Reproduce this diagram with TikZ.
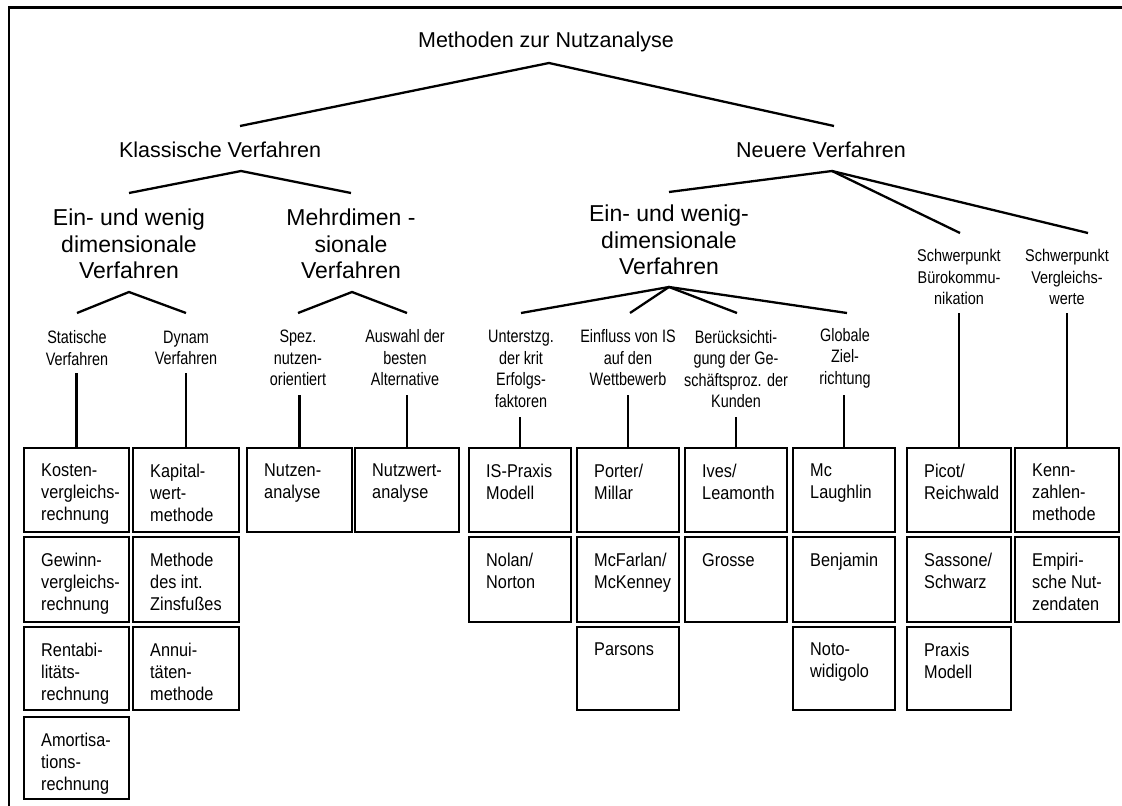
\documentclass[tikz,border=0pt]{standalone}
\usepackage{fontspec}
\setmainfont{Liberation Sans}
\newfontfamily\narrowsans[FakeStretch=0.8]{Liberation Sans}
\newfontfamily\boxsans[FakeStretch=0.88]{Liberation Sans}
\newfontfamily\smallsans[FakeStretch=0.85]{Liberation Sans}
\newcommand\mybox[6]{%
  \node[box, anchor=north west, minimum width={#4-#2}, minimum height={#5-#3}] (#1) at (#2,#3) {};
  \node[btxt] at ([xshift=17pt,yshift=-16pt]#1.north west) {#6};
}
\begin{document}
\begin{tikzpicture}[x=1pt,y=-1pt,
  lvl/.style={font=\fontsize{21.5}{26}\selectfont, inner sep=0},
  big/.style={font=\fontsize{23}{26.5}\selectfont, align=center, inner sep=0},
  lab/.style={font=\narrowsans\fontsize{18}{21.5}\selectfont, align=center, inner sep=0},
  small/.style={font=\smallsans\fontsize{17}{21.5}\selectfont, align=center, inner sep=0},
  tree/.style={line width=2.3pt},
  box/.style={draw, line width=2.7pt, inner sep=0, outer sep=0},
  btxt/.style={font=\boxsans\fontsize{18.5}{22}\selectfont, align=left, anchor=north west, inner sep=0},
]
\useasboundingbox (0,0) rectangle (1122,806);
% frame
\draw[line width=2.5pt] (9,806) -- (9,7.5) -- (1122,7.5);

% headings
\node[lvl] (T) at (546,42) {Methoden zur Nutzanalyse};
\node[lvl] (K) at (220,150) {Klassische Verfahren};
\node[lvl] (N) at (821,150) {Neuere Verfahren};
\node[big] (E1) at (129,244) {Ein- und wenig\\dimensionale\\Verfahren};
\node[big] (M) at (351,244) {Mehrdimen -\\sionale\\Verfahren};
\node[big] (E2) at (669,240) {Ein- und wenig-\\dimensionale\\Verfahren};
\node[small] (S1) at (959,277) {Schwerpunkt\\Bürokommu-\\nikation};
\node[small] (S2) at (1067,277) {Schwerpunkt\\Vergleichs-\\werte};

\node[lab] (L1) at (77,348) {Statische\\Verfahren};
\node[lab] (L2) at (186,348) {Dynam\\Verfahren};
\node[lab] (L3) at (298,358) {Spez.\\nutzen-\\orientiert};
\node[lab] (L4) at (405,358) {Auswahl der\\besten\\Alternative};
\node[lab] (L5) at (521,369) {Unterstzg.\\der krit\\Erfolgs-\\faktoren};
\node[lab] (L6) at (628,358) {Einfluss von IS\\auf den\\Wettbewerb};
\node[lab] (L7) at (736,369) {Berücksichti-\\gung der Ge-\\schäftsproz. der\\Kunden};
\node[lab] (L8) at (845,358) {Globale\\Ziel-\\richtung};

% tree coordinates
\coordinate (Ta) at (549,63);
\coordinate (Tk) at (240,126);
\coordinate (Tn) at (834,126);
\coordinate (Ka) at (241,171);
\coordinate (Ke) at (129,193);
\coordinate (Km) at (351,193);
\coordinate (Na) at (832,171);
\coordinate (Ne) at (669,192);
\coordinate (Nb) at (960,233);
\coordinate (Nv) at (1088,233);
\coordinate (E1a) at (129,292);
\coordinate (E1l) at (77,313);
\coordinate (E1r) at (186,313);
\coordinate (Ma) at (352,292);
\coordinate (Ml) at (298,313);
\coordinate (Mr) at (407,313);
\coordinate (E2a) at (669,287);
\coordinate (E2p) at (521,313);
\coordinate (E2q) at (630,313);
\coordinate (E2r) at (737,313);
\coordinate (E2s) at (847,313);
\coordinate (v1) at (0,373);
\coordinate (v2) at (0,395);
\coordinate (v3) at (0,417);
\coordinate (v4) at (0,313);

\draw[tree] (Tk) -- (Ta) -- (Tn);
\draw[tree] (Ke) -- (Ka) -- (Km);
\draw[tree] (Ne) -- (Na) -- (Nb);
\draw[tree] (Na) -- (Nv);
\draw[tree] (E1l) -- (E1a) -- (E1r);
\draw[tree] (Ml) -- (Ma) -- (Mr);
\draw[tree] (E2p) -- (E2a) -- (E2s);
\draw[tree] (E2q) -- (E2a) -- (E2r);

% boxes
\mybox{a1}{24}{448}{129}{532}{Kosten-\\vergleichs-\\rechnung}
\mybox{a2}{24}{537}{129}{622}{Gewinn-\\vergleichs-\\rechnung}
\mybox{a3}{24}{627}{129}{710}{Rentabi-\\litäts-\\rechnung}
\mybox{a4}{24}{717}{129}{799}{Amortisa-\\tions-\\rechnung}
\mybox{b1}{133}{448}{239}{532}{Kapital-\\wert-\\methode}
\mybox{b2}{133}{537}{239}{622}{Methode\\des int.\\Zinsfußes}
\mybox{b3}{133}{627}{239}{710}{Annui-\\täten-\\methode}
\mybox{c1}{247}{448}{352}{532}{Nutzen-\\analyse}
\mybox{d1}{355}{448}{459}{532}{Nutzwert-\\analyse}
\mybox{e1}{469}{448}{571}{532}{IS-Praxis\\Modell}
\mybox{e2}{469}{537}{571}{622}{Nolan/\\Norton}
\mybox{f1}{577}{448}{679}{532}{Porter/\\Millar}
\mybox{f2}{577}{537}{679}{622}{McFarlan/\\McKenney}
\mybox{f3}{577}{627}{679}{710}{Parsons}
\mybox{g1}{685}{448}{787}{532}{Ives/\\Leamonth}
\mybox{g2}{685}{537}{787}{622}{Grosse}
\mybox{h1}{793}{448}{895}{532}{Mc\\Laughlin}
\mybox{h2}{793}{537}{895}{622}{Benjamin}
\mybox{h3}{793}{627}{895}{710}{Noto-\\widigolo}
\mybox{i1}{907}{448}{1011}{532}{Picot/\\Reichwald}
\mybox{i2}{907}{537}{1011}{622}{Sassone/\\Schwarz}
\mybox{i3}{907}{627}{1011}{710}{Praxis\\Modell}
\mybox{j1}{1015}{448}{1119}{532}{Kenn-\\zahlen-\\methode}
\mybox{j2}{1015}{537}{1119}{622}{Empiri-\\sche Nut-\\zendaten}

% verticals
\draw[tree] (a1.north |- v1) -- (a1.north);
\draw[tree] (b1.north |- v1) -- (b1.north);
\draw[tree] (c1.north |- v2) -- (c1.north);
\draw[tree] (d1.north |- v2) -- (d1.north);
\draw[tree] (e1.north |- v3) -- (e1.north);
\draw[tree] (f1.north |- v2) -- (f1.north);
\draw[tree] (g1.north |- v3) -- (g1.north);
\draw[tree] (h1.north |- v2) -- (h1.north);
\draw[tree] (i1.north |- v4) -- (i1.north);
\draw[tree] (j1.north |- v4) -- (j1.north);
\end{tikzpicture}
\end{document}
